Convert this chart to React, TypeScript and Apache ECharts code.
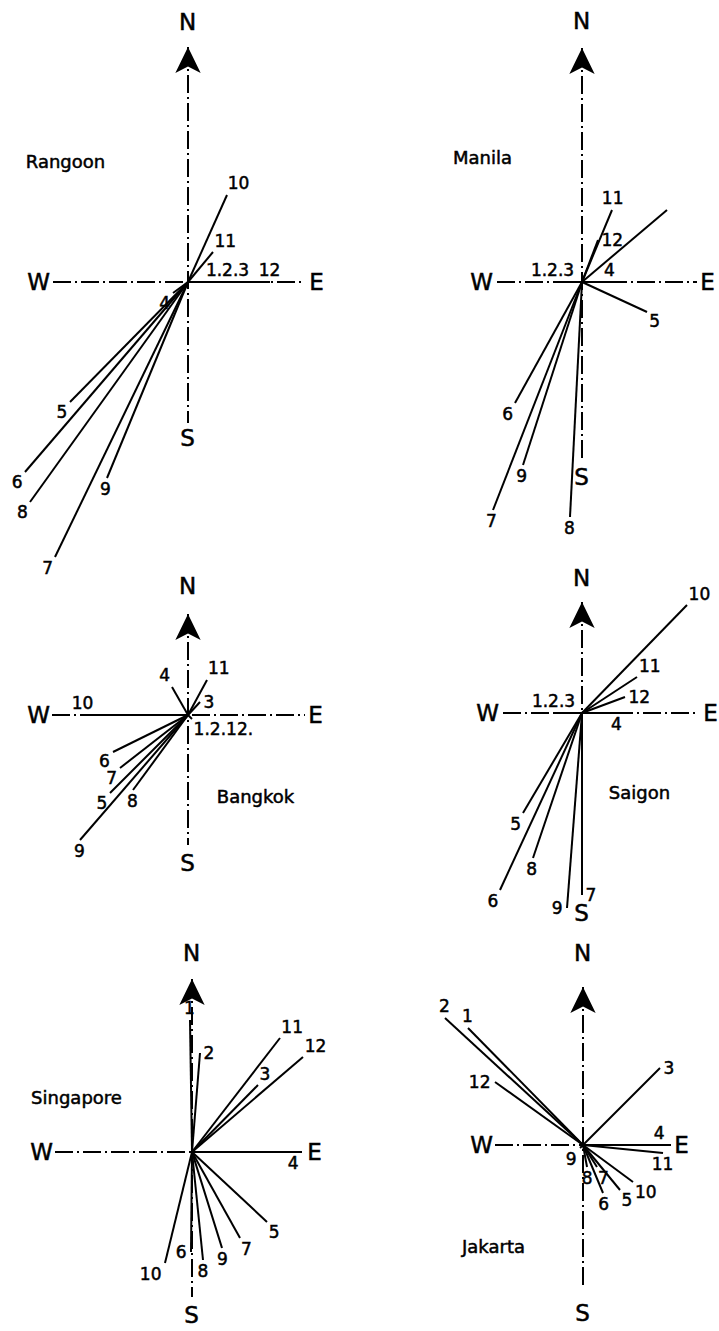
import React, { useEffect, useRef } from "react";
import * as echarts from "echarts";

// ---- Data: monthly resultant wind vectors (east, north components, plate units) ----
const cityNames = ["Rangoon", "Manila", "Bangkok", "Saigon", "Singapore", "Jakarta"];

const rangoonMonths = ["1.2.3", "4", "5", "6", "7", "8", "9", "10", "11", "12"];
const rangoonEast = [40, -15, -118, -163, -133, -158, -81, 39, 25, 82];
const rangoonNorth = [0, -11, -120, -190, -275, -220, -196, 87, 30, 0];

const manilaMonths = ["1.2.3", "4", "5", "6", "7", "8", "9", "10", "11", "12"];
const manilaEast = [-29, 28, 65, -67, -89, -12, -59, 85, 30, 16];
const manilaNorth = [0, 0, -30, -121, -228, -235, -183, 72, 72, 42];

const bangkokMonths = ["1.2.12.", "3", "4", "5", "6", "7", "8", "9", "10", "11"];
const bangkokEast = [4, 12, -16, -78, -75, -68, -55, -108, -105, 19];
const bangkokNorth = [-4, 13, 28, -78, -37, -53, -75, -125, 0, 35];

const saigonMonths = ["1.2.3", "4", "5", "6", "7", "8", "9", "10", "11", "12"];
const saigonEast = [-28, 35, -59, -82, 0, -49, -15, 105, 55, 43];
const saigonNorth = [0, 0, -100, -177, -182, -145, -195, 108, 36, 16];

const singaporeMonths = ["1", "2", "3", "4", "5", "6", "7", "8", "9", "10", "11", "12"];
const singaporeEast = [-2, 8, 66, 110, 75, -1, 48, 11, 30, -27, 88, 111];
const singaporeNorth = [132, 99, 67, 0, -70, -100, -86, -108, -96, -111, 114, 95];

const jakartaMonths = ["1", "2", "3", "4", "5", "6", "7", "8", "9", "10", "11", "12"];
const jakartaEast = [-115, -138, 77, 85, 37, 20, 14, 4, -3, 50, 80, -88];
const jakartaNorth = [117, 127, 77, 0, -45, -48, -22, -22, -3, -37, -8, 63];

const compassLetters = ["N", "S", "W", "E"];

// ---- Layout / style (not data) ----
const W = 719;
const H = 1331;
const FONT = "DejaVu Sans";
const INK = "#000000";

const panels = [
  {
    cx: 188, cy: 282, arrow: 235, n: 260, s: -156, axisS: -141, axisW: -135, axisE: 114, w: -149, e: 129,
    name: [-122, 120], months: rangoonMonths, east: rangoonEast, north: rangoonNorth,
    sides: ["above", "end", "end", "end", "end", "end", "end", "end", "end", "above"],
  },
  {
    cx: 582, cy: 282, arrow: 234, n: 261, s: -195, axisS: -178, axisW: -85, axisE: 115, w: -100, e: 126,
    name: [-99, 124], months: manilaMonths, east: manilaEast, north: manilaNorth,
    sides: ["above", "above", "end", "end", "end", "end", "end", "none", "end", "right"],
  },
  {
    cx: 188, cy: 715, arrow: 101, n: 129, s: -148, axisS: -130, axisW: -136, axisE: 117, w: -149, e: 128,
    name: [68, -82], months: bangkokMonths, east: bangkokEast, north: bangkokNorth,
    sides: ["end", "right", "end", "end", "end", "end", "below", "below", "above", "end"],
  },
  {
    cx: 582, cy: 713, arrow: 111, n: 135, s: -200, axisS: -182, axisW: -79, axisE: 116, w: -94, e: 129,
    name: [58, -80], months: saigonMonths, east: saigonEast, north: saigonNorth,
    sides: ["above", "below", "end", "end", "right", "end", "left", "end", "end", "right"],
  },
  {
    cx: 192, cy: 1152, arrow: 173, n: 199, s: -163, axisS: -145, axisW: -137, axisE: 110, w: -150, e: 123,
    name: [-115, 54], months: singaporeMonths, east: singaporeEast, north: singaporeNorth,
    sides: ["end", "right", "end", "belowleft", "end", "left", "end", "end", "end", "belowleft", "end", "end"],
  },
  {
    cx: 583, cy: 1145, arrow: 158, n: 192, s: -168, axisS: -142, axisW: -88, axisE: 88, w: -101, e: 99,
    name: [-89, -102], months: jakartaMonths, east: jakartaEast, north: jakartaNorth,
    sides: ["above", "above", "right", "aboveleft", "end", "end", "end", "end", "belowleft", "end", "below", "left"],
  },
];

const textStyle = {
  fontFamily: FONT,
  color: INK,
  opacity: 1,
  textBorderColor: INK,
  textBorderWidth: 0.5,
};

const hiddenItem = { color: "rgba(0,0,0,0)", opacity: 1 };

function labelPlacement(e: number, n: number, side: string) {
  const g = 3;
  switch (side) {
    case "above": return { position: [0, -g], align: "center", verticalAlign: "bottom" };
    case "below": return { position: [0, g], align: "center", verticalAlign: "top" };
    case "aboveleft": return { position: [-g, -g], align: "right", verticalAlign: "bottom" };
    case "belowleft": return { position: [-g, g], align: "right", verticalAlign: "top" };
    case "right": return { position: [g + 1, 0], align: "left", verticalAlign: "middle" };
    case "left": return { position: [-g - 1, 0], align: "right", verticalAlign: "middle" };
    default: {
      const L = Math.hypot(e, n) || 1;
      const ux = e / L;
      const uy = n / L;
      return {
        position: [ux * g, -uy * g],
        align: ux > 0.4 ? "left" : ux < -0.4 ? "right" : "center",
        verticalAlign: uy > 0.4 ? "bottom" : uy < -0.4 ? "top" : "middle",
      };
    }
  }
}

function buildOption() {
  const grid: any[] = [];
  const xAxis: any[] = [];
  const yAxis: any[] = [];
  const series: any[] = [];

  panels.forEach((p, i) => {
    grid.push({ left: 0, top: 0, width: W, height: H, containLabel: false });
    xAxis.push({ type: "value", gridIndex: i, min: -p.cx, max: W - p.cx, show: false });
    yAxis.push({ type: "value", gridIndex: i, min: -(H - p.cy), max: p.cy, show: false });

    // compass axes (dash-dot)
    series.push({
      type: "lines",
      coordinateSystem: "cartesian2d",
      xAxisIndex: i,
      yAxisIndex: i,
      silent: true,
      z: 1,
      lineStyle: { color: INK, width: 2, type: [18, 4, 2, 4], opacity: 1 },
      data: [
        { coords: [[0, p.arrow], [0, p.axisS]] },
        { coords: [[p.axisW, 0], [p.axisE, 0]] },
      ],
    });

    // north arrow
    series.push({
      type: "scatter",
      xAxisIndex: i,
      yAxisIndex: i,
      silent: true,
      z: 3,
      symbol: "arrow",
      symbolSize: [19, 26],
      itemStyle: { color: INK, opacity: 1 },
      data: [[0, p.arrow]],
    });

    // compass letters
    const letterPos = [[0, p.n], [0, p.s], [p.w, 0], [p.e, 0]];
    series.push({
      type: "scatter",
      xAxisIndex: i,
      yAxisIndex: i,
      silent: true,
      z: 4,
      symbolSize: 1,
      itemStyle: hiddenItem,
      data: compassLetters.map((c, k) => ({ name: c, value: letterPos[k] })),
      label: {
        show: true,
        formatter: "{b}",
        position: [0, 0],
        align: "center",
        verticalAlign: "middle",
        fontSize: 23,
        ...textStyle,
      },
    });

    // wind vectors
    series.push({
      type: "lines",
      coordinateSystem: "cartesian2d",
      xAxisIndex: i,
      yAxisIndex: i,
      silent: true,
      z: 2,
      lineStyle: { color: INK, width: 2, type: "solid", opacity: 1 },
      data: p.months.map((m, k) => ({ name: m, coords: [[0, 0], [p.east[k], p.north[k]]] })),
    });

    // month labels at vector ends
    series.push({
      type: "scatter",
      xAxisIndex: i,
      yAxisIndex: i,
      silent: true,
      z: 5,
      symbolSize: 1,
      itemStyle: hiddenItem,
      data: p.months
        .map((m, k) => {
          const side = p.sides[k];
          if (side === "none") return null;
          const pl = labelPlacement(p.east[k], p.north[k], side);
          return {
            name: m,
            value: [p.east[k], p.north[k]],
            label: { show: true, formatter: m, fontSize: 17, ...textStyle, ...pl },
          };
        })
        .filter(Boolean),
      label: {
        show: true,
        fontSize: 17,
        ...textStyle,
      },
    });

    // city name
    series.push({
      type: "scatter",
      xAxisIndex: i,
      yAxisIndex: i,
      silent: true,
      z: 5,
      symbolSize: 1,
      itemStyle: hiddenItem,
      data: [{ name: cityNames[i], value: p.name }],
      label: {
        show: true,
        formatter: "{b}",
        position: [0, 0],
        align: "center",
        verticalAlign: "middle",
        fontSize: 18,
        ...textStyle,
      },
    });
  });

  return {
    animation: false,
    backgroundColor: "#ffffff",
    grid,
    xAxis,
    yAxis,
    series,
  };
}

export default function App() {
  const ref = useRef<HTMLDivElement>(null);
  useEffect(() => {
    if (!ref.current) return;
    const chart = echarts.init(ref.current, null, { renderer: "svg" });
    chart.setOption(buildOption() as any);
    return () => chart.dispose();
  }, []);
  return (
    <div
      ref={ref}
      style={{ position: "absolute", left: 0, top: 0, width: W + "px", height: H + "px", background: "#fff" }}
    />
  );
}
